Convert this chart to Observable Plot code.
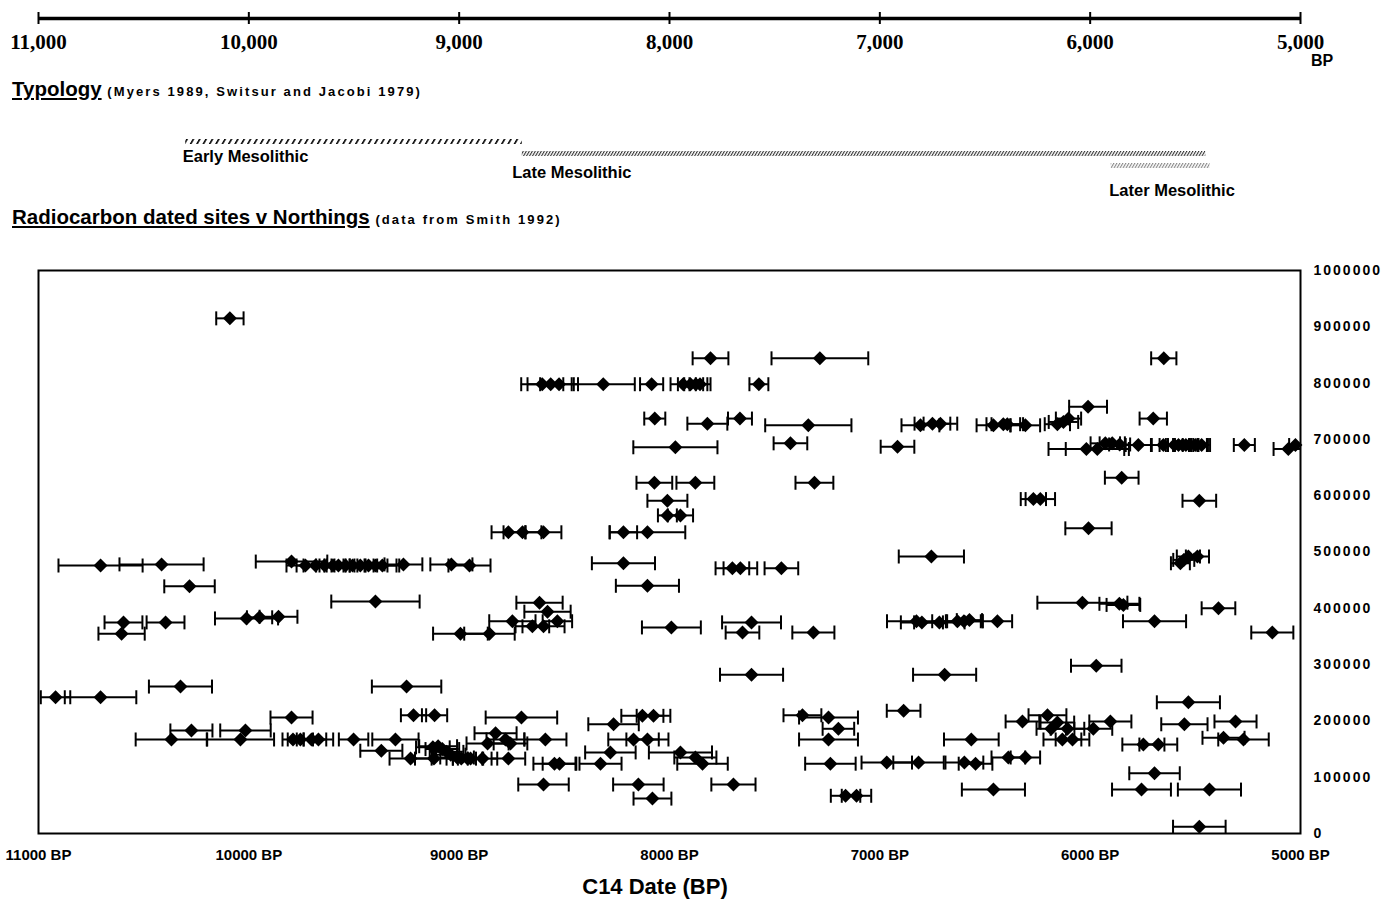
<!DOCTYPE html>
<html><head><meta charset="utf-8">
<script src="https://cdn.jsdelivr.net/npm/d3@7"></script>
<script src="https://cdn.jsdelivr.net/npm/@observablehq/plot@0.6"></script>
<style>
body{margin:0;background:#fff;}
#root{position:relative;width:1385px;height:899px;font-family:"Liberation Sans",Arial,sans-serif;color:#000;overflow:hidden;}
#root > *{position:absolute;}
.ttl{font-weight:bold;font-size:20.5px;line-height:20px;white-space:nowrap;}
.ttl u{text-decoration-thickness:2px;text-underline-offset:2px;}
.ttl small{font-size:13px;letter-spacing:2.1px;}
svg{overflow:visible;}
</style></head><body><div id="root"></div>
<script>
// ---------- data ----------
const timelineTicks = [11000, 10000, 9000, 8000, 7000, 6000, 5000];
const dateTicks = [11000, 10000, 9000, 8000, 7000, 6000, 5000];
const northingTicks = [0,100000,200000,300000,400000,500000,600000,700000,800000,900000,1000000];
const periodNames = ["Early Mesolithic", "Late Mesolithic", "Later Mesolithic"];
const periodStart = [10300, 8700, 5900];
const periodEnd = [8700, 5450, 5430];

// [C14 date BP, +/- error (years), northing]
const northSites = [
 [10090,65,915000],
 [7805,85,844000],[7285,230,844000],[5650,60,844000],
 [8605,100,798000],[8565,110,798000],[8525,90,798000],[8315,150,798000],[8085,55,798000],
 [7935,60,798000],[7900,60,798000],[7875,55,798000],[7855,50,798000],[7575,45,798000],
 [6010,90,758000],
 [8070,50,737000],[7820,95,728000],[7665,57,737000],[7340,205,725000],[5700,65,737000],
 [6807,90,725000],[6750,85,728000],[6712,80,728000],[6460,80,725000],[6413,80,727000],[6394,75,727000],
 [6308,70,725000],[6156,60,727000],[6127,70,731000],[6103,60,737000],
 [7972,200,686000],[7425,80,693000],[6916,80,687000],
 [6018,180,683000],[5966,150,683000],[5928,70,693000],[5895,60,693000],[5860,50,691000],[5771,60,690000],[5652,55,690000],
 [5600,70,690000],[5580,60,690000],[5560,70,690000],[5545,60,690000],[5525,80,690000],[5500,60,690000],[5470,40,690000],
 [5267,50,690000],[5058,70,683000],[5024,30,690000],
 [5850,80,632000],[8072,85,623000],[7877,90,623000],[7311,90,623000],
 [8010,95,591000],[6270,60,594000],[6237,70,594000],[5481,80,591000]
];
const midSites = [
 [8010,45,565000],[7948,60,565000],
 [8766,80,535000],[8699,90,535000],[8599,85,535000],[8219,65,535000],[8105,180,535000],
 [6008,110,542000],
 [10705,200,476000],[10415,200,478000],
 [9797,170,483000],[9731,90,476000],[9683,90,476000],[9640,100,476000],[9600,80,476000],[9574,90,476000],
 [9540,90,476000],[9507,100,476000],[9470,80,476000],[9431,90,476000],[9398,100,476000],[9365,80,476000],[9265,90,478000],
 [9037,100,478000],[8951,100,476000],[8219,150,480000],[7701,80,471000],[7663,80,471000],[7468,80,471000],
 [6755,155,492000],[5533,55,492000],[5490,55,492000],[5555,50,486000],[5571,45,480000],
 [10282,120,439000],[8105,150,440000],
 [9398,210,412000],[8618,110,410000],[6037,214,410000],[5861,95,408000],[5842,80,406000],[5390,80,400000],
 [8580,110,394000],
 [10596,90,375000],[10396,90,375000],[10011,150,382000],[9949,60,384000],[9859,90,385000],
 [8747,110,377000],[8533,70,377000],[8652,80,368000],[8599,100,368000],
 [10605,110,355000],[8994,130,355000],[8856,120,355000],
 [7991,140,366000],[7610,140,375000],[7653,80,357000],[7316,100,357000],
 [6826,140,377000],[6800,100,375000],[6717,120,375000],[6631,120,377000],[6600,80,377000],[6574,60,379000],[6441,70,377000],
 [5694,150,377000],[5134,100,357000],
 [5971,120,298000]
];
const southSites = [
 [7610,150,282000],[6692,150,282000],
 [10325,150,261000],[9250,165,261000],[10919,70,242000],[10705,170,242000],
 [5533,150,233000],[6887,80,218000],[6203,90,210000],[6322,80,199000],[5904,100,199000],[5309,100,199000],
 [5552,110,194000],[6156,80,197000],[6185,70,186000],[6108,80,186000],[5985,90,186000],
 [6565,130,167000],[6132,90,167000],[6084,80,167000],[5366,100,170000],[5271,120,167000],[5747,100,158000],[5676,90,158000],
 [6967,120,126000],[6816,120,126000],[6598,90,126000],[6545,80,124000],[6389,80,135000],[6308,70,135000],
 [5694,120,107000],[6460,150,78000],[5756,140,78000],[5433,150,78000],[5481,125,12000],
 [9797,100,206000],[9217,60,210000],[9117,60,210000],[10273,100,183000],[10016,120,183000],
 [10368,170,167000],[10040,160,167000],[9790,50,167000],[9755,60,167000],[9702,70,167000],[9669,70,167000],[9502,70,167000],[9303,110,167000],
 [9370,100,147000],[9231,100,133000],[9125,80,153000],[9120,90,133000],
 [9100,90,155000],[9080,80,150000],[9060,80,145000],[9040,70,140000],[9010,80,135000],[8990,70,133000],[8960,70,133000],
 [8946,60,133000],[8889,70,133000],[8766,80,133000],[8865,100,160000],[8756,80,160000],[8780,90,167000],
 [8827,100,178000],[8704,170,206000],[8590,100,167000],[8547,100,124000],[8523,80,124000],[8328,100,124000],[8281,120,144000],[8266,120,194000],
 [8129,100,209000],[8076,80,209000],[8171,120,167000],[8105,100,167000],[7948,150,144000],[7877,100,135000],[7843,120,124000],
 [8599,120,87000],[8148,120,87000],[7696,105,87000],[8081,90,62000],
 [7368,90,210000],[7244,140,206000],[7197,75,186000],[7244,140,167000],[7235,120,124000],[7163,70,67000],[7111,70,67000]
];

// ---------- layout ----------
const W = 1385, ML = 38, MR = 85;
const FONT = '"Liberation Sans", Arial, sans-serif';
const root = document.getElementById("root");
const xDomain = [11000, 5000];

function place(el, left, top) { el.style.left = left + "px"; el.style.top = top + "px"; root.appendChild(el); return el; }
function html(str, left, top, cls) { const d = document.createElement("div"); d.className = cls || ""; d.innerHTML = str; return place(d, left, top); }

// Top timeline
const timeline = Plot.plot({
  width: W, height: 60, marginLeft: ML, marginRight: MR, marginTop: 12, marginBottom: 36,
  x: {domain: xDomain}, y: {domain: [0, 1], axis: null},
  style: {fontFamily: '"Liberation Serif", "Times New Roman", serif', fontSize: "21px", fontWeight: "bold", background: "transparent", overflow: "visible"},
  marks: [
    Plot.ruleY([0.5], {x1: xDomain[0], x2: xDomain[1], strokeWidth: 3.5, stroke: "black"}),
    Plot.ruleX(timelineTicks, {y1: 0, y2: 1, strokeWidth: 2, stroke: "black"}),
    Plot.axisX({ticks: timelineTicks, tickFormat: d3.format(","), tickSize: 0, tickPadding: 10, label: null, anchor: "bottom", fill: "black", fontSize: 21})
  ]
});
place(timeline, 0, 0);
html("BP", 1311, 51, "ttl").style.fontSize = "16px";

// Typology
html('<u>Typology</u> <small>(Myers 1989, Switsur and Jacobi 1979)</small>', 12, 79, "ttl");

const periods = periodNames.map((name, i) => ({name, start: periodStart[i], end: periodEnd[i]}));
const hatchIds = ["hatchEarly", "hatchLate", "hatchLater"];
const labelDy = [15, 19, 25];
const labelDx = [-3, -10, -2];
const typology = Plot.plot({
  width: W, height: 90, marginLeft: ML, marginRight: MR, marginTop: 0, marginBottom: 0,
  x: {domain: xDomain, axis: null},
  y: {type: "point", domain: periodNames, range: [20, 45], padding: 0, axis: null},
  style: {fontFamily: FONT, fontSize: "16.5px", fontWeight: "bold", background: "transparent", overflow: "visible"},
  marks: periods.flatMap((p, i) => [
    Plot.ruleY([p], {x1: "start", x2: "end", y: "name", stroke: `url(#${hatchIds[i]})`, strokeWidth: 5}),
    Plot.text([p], {x: "start", y: "name", text: "name", textAnchor: "start", dy: labelDy[i], dx: labelDx[i], fill: "black"})
  ])
});
const defs = d3.select(typology).insert("defs", ":first-child");
[["hatchEarly", 5.5, 1.6, "#000"], ["hatchLate", 2.6, 1.1, "#333"], ["hatchLater", 2.6, 1.1, "#888"]].forEach(([id, sp, lw, c]) => {
  const pat = defs.append("pattern").attr("id", id).attr("patternUnits", "userSpaceOnUse")
    .attr("width", sp).attr("height", 10).attr("patternTransform", "rotate(30)");
  pat.append("rect").attr("width", lw).attr("height", 10).attr("fill", c);
});
place(typology, 0, 120);

// Main chart title
html('<u>Radiocarbon dated sites v Northings</u> <small>(data from Smith 1992)</small>', 12, 207, "ttl");

// Error bar cap symbol and diamond symbol
const capSymbol = {draw(ctx, size) { const h = Math.sqrt(size / Math.PI); ctx.moveTo(0, -h); ctx.lineTo(0, h); }};
const diamondSymbol = {draw(ctx, size) { const r = Math.sqrt(size / Math.PI); ctx.moveTo(0, -r); ctx.lineTo(r, 0); ctx.lineTo(0, r); ctx.lineTo(-r, 0); ctx.closePath(); }};

const sites = [...northSites, ...midSites, ...southSites].map(([bp, err, n]) => ({bp, err, n}));

const main = Plot.plot({
  width: W, height: 649, marginLeft: ML, marginRight: MR, marginTop: 20, marginBottom: 66,
  x: {domain: xDomain},
  y: {domain: [0, 1000000]},
  style: {fontFamily: FONT, fontSize: "15px", fontWeight: "bold", background: "transparent", overflow: "visible"},
  marks: [
    Plot.ruleY(sites, {x1: d => d.bp - d.err, x2: d => d.bp + d.err, y: "n", stroke: "black", strokeWidth: 2, clip: true}),
    Plot.dot(sites, {x: d => d.bp - d.err, y: "n", symbol: capSymbol, r: 7, stroke: "black", strokeWidth: 2, fill: "none", clip: true}),
    Plot.dot(sites, {x: d => d.bp + d.err, y: "n", symbol: capSymbol, r: 7, stroke: "black", strokeWidth: 2, fill: "none", clip: true}),
    Plot.dot(sites, {x: "bp", y: "n", symbol: diamondSymbol, r: 7, fill: "black", stroke: "none"}),
    Plot.frame({stroke: "black", strokeWidth: 2}),
    Plot.axisX({ticks: dateTicks, tickFormat: d => d + " BP", tickSize: 0, tickPadding: 16, label: null, fill: "black"}),
    Plot.axisY({anchor: "right", ticks: northingTicks, tickFormat: d => String(d), tickSize: 0, tickPadding: 13, label: null, fontSize: 14, fill: "black"})
  ]
});
d3.select(main).selectAll('g[aria-label="y-axis tick label"] text').style("letter-spacing", "2px");
place(main, 0, 250);

const xl = html("C14 Date (BP)", 0, 876, "ttl");
xl.style.fontSize = "22px"; xl.style.lineHeight = "22px"; xl.style.width = "1310px"; xl.style.textAlign = "center";
</script></body></html>
